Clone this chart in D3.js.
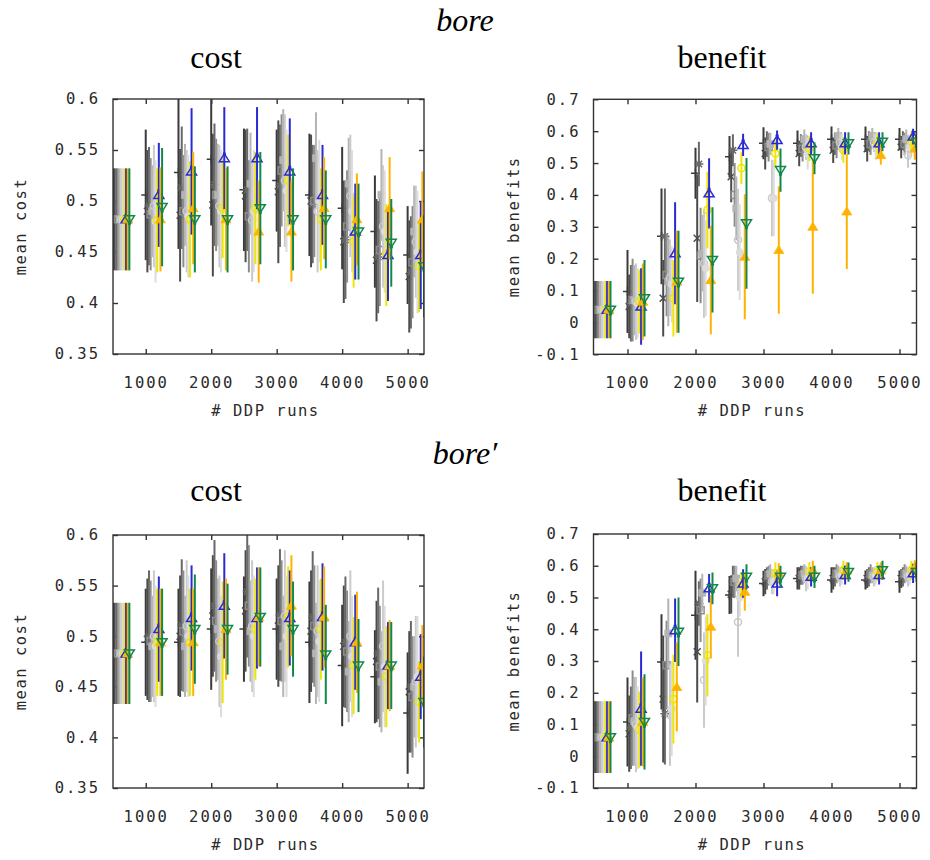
<!DOCTYPE html>
<html>
<head>
<meta charset="utf-8">
<script src="https://cdn.jsdelivr.net/npm/d3@7"></script>
<style>
  body { margin: 0; background: #fff; }
  svg { display: block; }
  .tick-label { font-family: "DejaVu Sans Mono", monospace; font-size: 15.5px; fill: #2a2a2a; letter-spacing: 2px; }
  .axis-title { font-family: "DejaVu Sans Mono", monospace; font-size: 15.5px; fill: #2a2a2a; letter-spacing: 1.5px; }
  .panel-title { font-family: "Liberation Serif", "Times New Roman", serif; font-size: 32px; fill: #000; }
</style>
</head>
<body>
<svg id="chart" width="930" height="860"></svg>
<script>
// x positions (number of DDP runs) at which each configuration was evaluated
const groups = [500, 1000, 1500, 2000, 2500, 3000, 3500, 4000, 4500, 5000];
const xTicks = [1000, 2000, 3000, 4000, 5000];
const costTicks = [0.35, 0.4, 0.45, 0.5, 0.55, 0.6];
const benefitTicks = [-0.1, 0, 0.1, 0.2, 0.3, 0.4, 0.5, 0.6, 0.7];

// series order: seven grey configurations, then yellow, blue, orange, green
const seriesNames = ["g1", "g2", "g3", "g4", "g5", "g6", "g7", "yellow", "blue", "orange", "green"];

// bore — mean cost
const boreCostMean = [
  [0.482, 0.506, 0.528, 0.541, 0.511, 0.520, 0.506, 0.493, 0.470, 0.447],
  [0.482, 0.490, 0.486, 0.496, 0.505, 0.509, 0.500, 0.460, 0.442, 0.426],
  [0.482, 0.495, 0.513, 0.516, 0.511, 0.515, 0.497, 0.462, 0.445, 0.430],
  [0.482, 0.487, 0.490, 0.506, 0.485, 0.530, 0.500, 0.475, 0.452, 0.440],
  [0.482, 0.490, 0.506, 0.506, 0.517, 0.540, 0.542, 0.517, 0.506, 0.470],
  [0.482, 0.495, 0.490, 0.495, 0.481, 0.520, 0.490, 0.505, 0.475, 0.460],
  [0.482, 0.480, 0.485, 0.490, 0.490, 0.510, 0.500, 0.490, 0.470, 0.450],
  [0.482, 0.481, 0.482, 0.493, 0.493, 0.520, 0.482, 0.460, 0.447, 0.436],
  [0.482, 0.506, 0.529, 0.542, 0.542, 0.529, 0.506, 0.470, 0.447, 0.447],
  [0.482, 0.482, 0.493, 0.482, 0.470, 0.470, 0.493, 0.482, 0.493, 0.482],
  [0.482, 0.494, 0.482, 0.482, 0.493, 0.482, 0.482, 0.470, 0.459, 0.436]
];
const boreCostErr = [
  [0.050, 0.064, 0.075, 0.065, 0.060, 0.050, 0.060, 0.060, 0.055, 0.048],
  [0.050, 0.060, 0.065, 0.070, 0.065, 0.070, 0.065, 0.060, 0.060, 0.055],
  [0.050, 0.058, 0.060, 0.060, 0.060, 0.060, 0.058, 0.058, 0.055, 0.055],
  [0.050, 0.055, 0.055, 0.055, 0.055, 0.055, 0.055, 0.055, 0.055, 0.055],
  [0.050, 0.045, 0.050, 0.050, 0.050, 0.050, 0.045, 0.045, 0.045, 0.045],
  [0.050, 0.060, 0.060, 0.060, 0.060, 0.065, 0.060, 0.060, 0.060, 0.055],
  [0.050, 0.060, 0.060, 0.060, 0.060, 0.060, 0.060, 0.060, 0.060, 0.060],
  [0.050, 0.051, 0.057, 0.049, 0.055, 0.045, 0.050, 0.045, 0.050, 0.045],
  [0.050, 0.051, 0.062, 0.050, 0.050, 0.052, 0.049, 0.047, 0.045, 0.053],
  [0.050, 0.051, 0.055, 0.050, 0.050, 0.049, 0.050, 0.045, 0.050, 0.047],
  [0.050, 0.058, 0.052, 0.052, 0.055, 0.050, 0.048, 0.047, 0.043, 0.050]
];

// bore — mean benefits
const boreBenefitMean = [
  [0.040, 0.097, 0.270, 0.468, 0.520, 0.562, 0.562, 0.575, 0.575, 0.575],
  [0.040, 0.050, 0.076, 0.264, 0.457, 0.530, 0.530, 0.540, 0.545, 0.550],
  [0.040, 0.060, 0.270, 0.497, 0.540, 0.560, 0.555, 0.560, 0.570, 0.570],
  [0.040, 0.070, 0.149, 0.210, 0.400, 0.550, 0.545, 0.555, 0.560, 0.560],
  [0.040, 0.070, 0.128, 0.217, 0.358, 0.560, 0.575, 0.585, 0.585, 0.575],
  [0.040, 0.065, 0.140, 0.185, 0.259, 0.390, 0.550, 0.565, 0.565, 0.525],
  [0.040, 0.060, 0.120, 0.170, 0.220, 0.390, 0.530, 0.550, 0.550, 0.550],
  [0.040, 0.065, 0.076, 0.353, 0.484, 0.530, 0.546, 0.541, 0.560, 0.567],
  [0.040, 0.050, 0.217, 0.405, 0.557, 0.572, 0.562, 0.562, 0.562, 0.583],
  [0.040, 0.065, 0.128, 0.133, 0.206, 0.227, 0.300, 0.348, 0.525, 0.545],
  [0.040, 0.076, 0.128, 0.196, 0.311, 0.478, 0.515, 0.562, 0.567, 0.567]
];
const boreBenefitErr = [
  [0.090, 0.130, 0.150, 0.080, 0.065, 0.050, 0.040, 0.040, 0.040, 0.035],
  [0.090, 0.100, 0.120, 0.200, 0.080, 0.050, 0.040, 0.040, 0.040, 0.035],
  [0.090, 0.120, 0.150, 0.070, 0.050, 0.040, 0.035, 0.035, 0.030, 0.030],
  [0.090, 0.130, 0.130, 0.150, 0.100, 0.045, 0.040, 0.040, 0.035, 0.035],
  [0.090, 0.110, 0.140, 0.120, 0.100, 0.035, 0.030, 0.025, 0.025, 0.030],
  [0.090, 0.120, 0.120, 0.170, 0.160, 0.120, 0.040, 0.030, 0.030, 0.040],
  [0.090, 0.110, 0.120, 0.150, 0.150, 0.120, 0.050, 0.040, 0.040, 0.040],
  [0.090, 0.100, 0.120, 0.120, 0.050, 0.040, 0.040, 0.040, 0.035, 0.030],
  [0.090, 0.120, 0.160, 0.110, 0.035, 0.030, 0.035, 0.035, 0.035, 0.025],
  [0.090, 0.120, 0.160, 0.170, 0.196, 0.200, 0.210, 0.180, 0.030, 0.035],
  [0.090, 0.120, 0.160, 0.165, 0.205, 0.068, 0.050, 0.035, 0.030, 0.030]
];

// bore′ — mean cost
const borePrimeCostMean = [
  [0.483, 0.494, 0.494, 0.507, 0.507, 0.507, 0.494, 0.471, 0.460, 0.424],
  [0.483, 0.497, 0.500, 0.520, 0.525, 0.510, 0.505, 0.490, 0.475, 0.445],
  [0.483, 0.500, 0.511, 0.530, 0.544, 0.521, 0.519, 0.494, 0.483, 0.450],
  [0.483, 0.495, 0.505, 0.515, 0.530, 0.515, 0.510, 0.485, 0.470, 0.440],
  [0.483, 0.490, 0.490, 0.507, 0.505, 0.490, 0.483, 0.465, 0.455, 0.450],
  [0.483, 0.500, 0.510, 0.495, 0.510, 0.520, 0.505, 0.500, 0.490, 0.455],
  [0.483, 0.490, 0.500, 0.480, 0.500, 0.500, 0.495, 0.480, 0.470, 0.460],
  [0.483, 0.494, 0.494, 0.494, 0.507, 0.519, 0.507, 0.471, 0.460, 0.435],
  [0.483, 0.507, 0.518, 0.530, 0.518, 0.518, 0.519, 0.494, 0.471, 0.460],
  [0.483, 0.494, 0.494, 0.507, 0.519, 0.530, 0.519, 0.494, 0.471, 0.471],
  [0.483, 0.494, 0.507, 0.507, 0.519, 0.507, 0.482, 0.471, 0.471, 0.435]
];
const borePrimeCostErr = [
  [0.050, 0.053, 0.053, 0.060, 0.052, 0.050, 0.060, 0.060, 0.046, 0.060],
  [0.050, 0.060, 0.060, 0.060, 0.060, 0.060, 0.060, 0.060, 0.060, 0.060],
  [0.050, 0.065, 0.065, 0.065, 0.065, 0.065, 0.065, 0.065, 0.065, 0.065],
  [0.050, 0.060, 0.060, 0.060, 0.060, 0.060, 0.060, 0.060, 0.060, 0.060],
  [0.050, 0.050, 0.050, 0.050, 0.050, 0.050, 0.050, 0.050, 0.050, 0.050],
  [0.050, 0.065, 0.065, 0.065, 0.065, 0.065, 0.065, 0.065, 0.065, 0.065],
  [0.050, 0.060, 0.060, 0.060, 0.060, 0.060, 0.060, 0.060, 0.060, 0.060],
  [0.050, 0.053, 0.053, 0.060, 0.050, 0.050, 0.050, 0.048, 0.050, 0.040],
  [0.050, 0.052, 0.052, 0.052, 0.050, 0.047, 0.053, 0.047, 0.043, 0.042],
  [0.050, 0.053, 0.053, 0.050, 0.049, 0.050, 0.050, 0.050, 0.045, 0.040],
  [0.050, 0.053, 0.054, 0.045, 0.049, 0.047, 0.049, 0.046, 0.043, 0.045]
];

// bore′ — mean benefits
const borePrimeBenefitMean = [
  [0.060, 0.108, 0.297, 0.444, 0.508, 0.544, 0.560, 0.555, 0.555, 0.550],
  [0.060, 0.071, 0.180, 0.329, 0.510, 0.550, 0.560, 0.560, 0.560, 0.560],
  [0.060, 0.090, 0.134, 0.481, 0.550, 0.560, 0.570, 0.565, 0.565, 0.565],
  [0.060, 0.120, 0.287, 0.460, 0.550, 0.570, 0.570, 0.575, 0.575, 0.575],
  [0.060, 0.110, 0.387, 0.515, 0.560, 0.575, 0.575, 0.575, 0.570, 0.575],
  [0.060, 0.100, 0.130, 0.240, 0.423, 0.550, 0.560, 0.565, 0.565, 0.565],
  [0.060, 0.090, 0.150, 0.300, 0.500, 0.550, 0.560, 0.570, 0.570, 0.570],
  [0.060, 0.084, 0.180, 0.318, 0.539, 0.576, 0.581, 0.586, 0.581, 0.586],
  [0.060, 0.150, 0.397, 0.529, 0.544, 0.544, 0.565, 0.571, 0.571, 0.576],
  [0.060, 0.108, 0.218, 0.408, 0.518, 0.578, 0.586, 0.586, 0.586, 0.597],
  [0.060, 0.108, 0.392, 0.529, 0.565, 0.565, 0.565, 0.580, 0.586, 0.580]
];
const borePrimeBenefitErr = [
  [0.113, 0.140, 0.150, 0.140, 0.060, 0.040, 0.035, 0.040, 0.030, 0.035],
  [0.113, 0.120, 0.200, 0.160, 0.060, 0.040, 0.035, 0.035, 0.030, 0.030],
  [0.113, 0.130, 0.160, 0.070, 0.050, 0.035, 0.030, 0.030, 0.030, 0.030],
  [0.113, 0.150, 0.140, 0.100, 0.050, 0.030, 0.030, 0.030, 0.030, 0.030],
  [0.113, 0.140, 0.110, 0.060, 0.040, 0.030, 0.030, 0.025, 0.025, 0.025],
  [0.113, 0.150, 0.160, 0.150, 0.110, 0.040, 0.040, 0.030, 0.030, 0.030],
  [0.113, 0.130, 0.150, 0.140, 0.060, 0.040, 0.035, 0.030, 0.030, 0.030],
  [0.113, 0.120, 0.140, 0.130, 0.040, 0.035, 0.030, 0.030, 0.030, 0.030],
  [0.113, 0.180, 0.100, 0.045, 0.045, 0.040, 0.030, 0.030, 0.030, 0.030],
  [0.113, 0.140, 0.140, 0.100, 0.060, 0.030, 0.030, 0.025, 0.025, 0.020],
  [0.113, 0.150, 0.108, 0.050, 0.040, 0.035, 0.035, 0.030, 0.030, 0.030]
];

// marker and colour for each configuration, in series order
const seriesStyle = [
  { color: "#3a3a3a", marker: "plus" },
  { color: "#4c4c4c", marker: "cross" },
  { color: "#686868", marker: "star" },
  { color: "#8c8c8c", marker: "square" },
  { color: "#b4b4b4", marker: "squareFilled" },
  { color: "#cacaca", marker: "circle" },
  { color: "#dcdcdc", marker: "circleFilled" },
  { color: "#eee600", marker: "circle" },
  { color: "#2a2ad2", marker: "triangle" },
  { color: "#ffb300", marker: "triangleFilled" },
  { color: "#12874a", marker: "triangleDown" }
];
const seriesShift = 25; // x offset between neighbouring configurations

const svg = d3.select("#chart");

const panels = [
  { mean: boreCostMean, err: boreCostErr, ticks: costTicks, domain: [0.35, 0.6], ylabel: "mean cost",
    left: 113, right: 424, top: 99, bottom: 354, ylabelX: 21 },
  { mean: boreBenefitMean, err: boreBenefitErr, ticks: benefitTicks, domain: [-0.1, 0.7], ylabel: "mean benefits",
    left: 593.5, right: 916.5, top: 99.3, bottom: 354.3, ylabelX: 514 },
  { mean: borePrimeCostMean, err: borePrimeCostErr, ticks: costTicks, domain: [0.35, 0.6], ylabel: "mean cost",
    left: 113, right: 424, top: 535, bottom: 788, ylabelX: 21 },
  { mean: borePrimeBenefitMean, err: borePrimeBenefitErr, ticks: benefitTicks, domain: [-0.1, 0.7], ylabel: "mean benefits",
    left: 593.5, right: 916.5, top: 534, bottom: 788, ylabelX: 514 }
];

function markerPath(kind) {
  switch (kind) {
    case "plus": return "M-4.5,0H4.5M0,-4.5V4.5";
    case "cross": return "M-3.5,-3.5L3.5,3.5M-3.5,3.5L3.5,-3.5";
    case "star": return "M-4.5,0H4.5M0,-4.5V4.5M-3.2,-3.2L3.2,3.2M-3.2,3.2L3.2,-3.2";
    case "square": case "squareFilled": return "M-3.5,-3.5H3.5V3.5H-3.5Z";
    case "circle": case "circleFilled": return d3.symbol(d3.symbolCircle, 40)();
    case "triangle": case "triangleFilled": return "M0,-4.5L5,3.5H-5Z";
    case "triangleDown": return "M0,4.5L5,-3.5H-5Z";
  }
  return "";
}

const fmt = v => String(+v.toFixed(2));

panels.forEach((p, pi) => {
  const x = d3.scaleLinear().domain([500, 5250]).range([p.left, p.right]);
  const y = d3.scaleLinear().domain(p.domain).range([p.bottom, p.top]);
  const g = svg.append("g");

  const clipId = "clip" + pi;
  g.append("clipPath").attr("id", clipId)
    .append("rect").attr("x", p.left).attr("y", p.top)
    .attr("width", p.right - p.left).attr("height", p.bottom - p.top);

  // axes: ticks on all four sides, pointing inwards
  const tickLen = 5;
  const yLeft = d3.axisLeft(y).tickValues(p.ticks).tickSize(-tickLen).tickPadding(13).tickFormat(fmt);
  const yRight = d3.axisRight(y).tickValues(p.ticks).tickSize(-tickLen).tickFormat("");
  const xBottom = d3.axisBottom(x).tickValues(xTicks).tickSize(-tickLen).tickPadding(23).tickFormat(d3.format("d"));
  const xTop = d3.axisTop(x).tickValues(xTicks).tickSize(-tickLen).tickFormat("");

  const axes = [
    g.append("g").attr("transform", `translate(${p.left},0)`).call(yLeft),
    g.append("g").attr("transform", `translate(${p.right},0)`).call(yRight),
    g.append("g").attr("transform", `translate(0,${p.bottom})`).call(xBottom),
    g.append("g").attr("transform", `translate(0,${p.top})`).call(xTop)
  ];
  axes.forEach(a => {
    a.select(".domain").remove();
    a.selectAll(".tick line").attr("stroke", "#333").attr("stroke-width", 1.4);
    a.selectAll(".tick text").attr("class", "tick-label").attr("fill", null);
  });

  // data
  const plot = g.append("g").attr("clip-path", `url(#${clipId})`);
  p.mean.forEach((row, si) => {
    const st = seriesStyle[si];
    const sg = plot.append("g");
    const pts = row.map((m, gi) => ({ gx: groups[gi] + si * seriesShift, m, e: p.err[si][gi] }));
    sg.selectAll("line").data(pts).join("line")
      .attr("x1", d => x(d.gx)).attr("x2", d => x(d.gx))
      .attr("y1", d => y(d.m - d.e)).attr("y2", d => y(d.m + d.e))
      .attr("stroke", st.color).attr("stroke-width", 2);
    const filled = /Filled/.test(st.marker);
    sg.selectAll("path").data(pts).join("path")
      .attr("transform", d => `translate(${x(d.gx)},${y(d.m)})`)
      .attr("d", markerPath(st.marker))
      .attr("fill", filled ? st.color : "none")
      .attr("stroke", st.color)
      .attr("stroke-width", filled ? 0.8 : 1.5);
    if (st.marker === "triangle" || st.marker === "triangleDown") {
      const dy = st.marker === "triangle" ? -4.5 : 4.5;
      sg.selectAll("circle").data(pts).join("circle")
        .attr("cx", d => x(d.gx)).attr("cy", d => y(d.m) + dy).attr("r", 1.6)
        .attr("fill", st.color);
    }
  });

  // frame
  g.append("rect").attr("x", p.left).attr("y", p.top)
    .attr("width", p.right - p.left).attr("height", p.bottom - p.top)
    .attr("fill", "none").attr("stroke", "#333").attr("stroke-width", 1.4);

  // axis titles
  g.append("text").attr("class", "axis-title").attr("text-anchor", "middle")
    .attr("x", (p.left + p.right) / 2 - 3).attr("y", p.bottom + 62)
    .text("# DDP runs");
  const yMid = (p.top + p.bottom) / 2;
  g.append("text").attr("class", "axis-title").attr("text-anchor", "middle")
    .attr("transform", `translate(${p.ylabelX + 5},${yMid}) rotate(-90)`)
    .text(p.ylabel);
});

// headings
const headings = [
  { text: "bore", x: 465, y: 31, italic: true },
  { text: "cost", x: 216, y: 68 },
  { text: "benefit", x: 722, y: 68 },
  { text: "bore\u2032", x: 465, y: 464, italic: true },
  { text: "cost", x: 216, y: 501 },
  { text: "benefit", x: 722, y: 501 }
];
svg.selectAll("text.panel-title").data(headings).join("text")
  .attr("class", "panel-title")
  .attr("text-anchor", "middle")
  .attr("x", d => d.x).attr("y", d => d.y)
  .attr("font-style", d => d.italic ? "italic" : null)
  .text(d => d.text);
</script>
</body>
</html>
